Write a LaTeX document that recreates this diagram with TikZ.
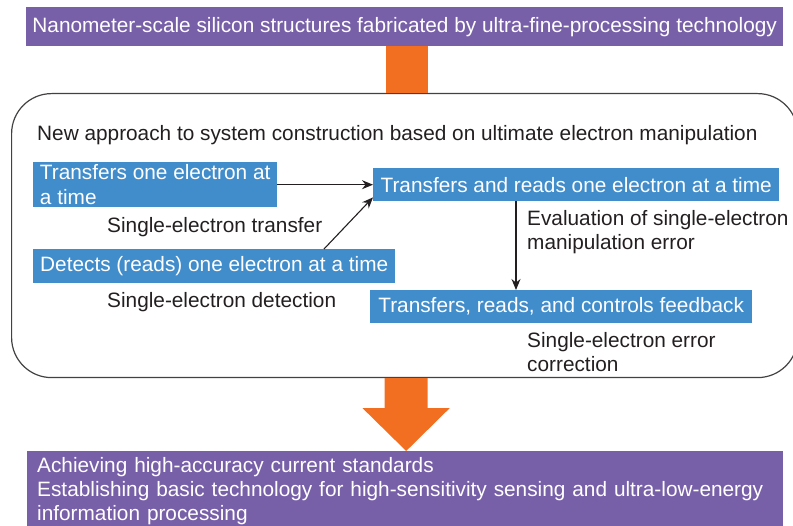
\documentclass[tikz,border=0pt]{standalone}
\usepackage{fontspec}
\setmainfont{Liberation Sans}
\usepackage{xcolor}
\usetikzlibrary{positioning,calc,arrows.meta}

\definecolor{headpurple}{HTML}{7860A8}
\definecolor{flowblue}{HTML}{418DCB}
\definecolor{blockorange}{HTML}{F26F21}
\definecolor{inkgray}{HTML}{231F20}

\newcommand\diagfont{\fontsize{20.8}{24.5}\selectfont}

\tikzset{
  bar/.style={fill=headpurple, text=white, anchor=north west, inner sep=0pt, font=\diagfont},
  procbox/.style={fill=flowblue, text=white, anchor=north west, inner xsep=7pt, inner ysep=0pt, minimum height=33pt, font=\diagfont},
  caption/.style={anchor=north west, inner sep=0pt, align=left, text=inkgray, font=\diagfont},
  link/.style={draw=inkgray, line width=1.1pt, -{Stealth[length=11pt,width=9pt]}}
}

\begin{document}
\begin{tikzpicture}[x=1pt,y=-1pt]
      \def \shaft {21} % half width of the orange shaft
      \useasboundingbox (0,0) rectangle (793,526);

      % the two purple bars and the frame between them
      \node[bar, minimum width=757pt, minimum height=39pt] (source) at (26,7)
           {Nanometer-scale silicon structures fabricated by ultra-fine-processing technology};
      \node[draw=inkgray!85, line width=1.2pt, rounded corners=40pt, anchor=north west,
            minimum width=786pt, minimum height=284pt] (frame) at (11,93) {};
      \node[bar, text width=736pt, inner xsep=10pt, inner ysep=6pt, align=left,
            font=\fontsize{20.8}{24}\selectfont] (goal) at (27,451)
           {Achieving high-accuracy current standards\\
            Establishing basic technology for high-sensitivity sensing and ultra-low-energy\\
            information processing};

      % orange block arrows
      \fill[blockorange] ($(source.south)+(-18.5,0)$) rectangle ($(frame.north)+(23.5,0)$);
      \fill[blockorange] ($(frame.south)+(-20,0)$) -- ++(43,0) -- ++(0,30) -- ++(\shaft+1,0)
           -- ($(goal.north)+(1,0)$) -- ($(frame.south)+(-42,30)$) -- ($(frame.south)+(-20,30)$) -- cycle;

      \node[caption] (newway) at (37,125)
           {New approach to system construction based on ultimate electron manipulation};

      % blue steps
      \node[procbox, inner xsep=0pt, minimum width=244pt, minimum height=45pt, align=left] (xfer) at (33,162)
           {Transfers one electron at\\a time};
      \node[procbox, minimum width=406pt] (both) at (373,168) {Transfers and reads one electron at a time};
      \node[procbox, minimum width=362pt, minimum height=34pt] (detect) at (33,249)
           {Detects (reads) one electron at a time};
      \node[procbox, minimum width=382pt] (feedback) at (370,290) {Transfers, reads, and controls feedback};

      \node[caption] (xferlabel) at (107,217) {Single-electron transfer};
      \node[caption] (detlabel) at (107,292) {Single-electron detection};
      \node[caption] (evallabel) at (527,210) {Evaluation of single-electron\\manipulation error};
      \node[caption] (corrlabel) at (527,332) {Single-electron error\\correction};

      % connectors
      \coordinate (dettop) at ($(detect.north west)+(291,0)$);
      \coordinate (evaltop) at ($(both.south west)+(143,0)$);
      \draw[link] (xfer.east) -- (both.west);
      \draw[link] (dettop) -- ($(both.south west)+(0,-4)$);
      \draw[link] (evaltop) -- (evaltop |- feedback.north);
\end{tikzpicture}
\end{document}
